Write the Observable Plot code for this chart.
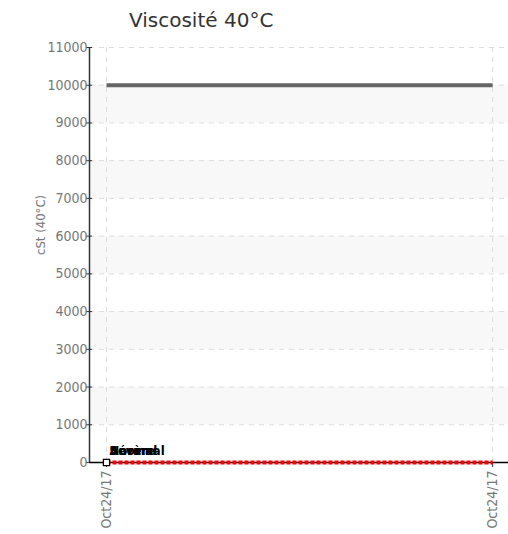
<!DOCTYPE html>
<html><head><meta charset="utf-8">
<script src="https://cdn.jsdelivr.net/npm/d3@7"></script>
<script src="https://cdn.jsdelivr.net/npm/@observablehq/plot@0.6"></script>
<style>
body{margin:0;background:#fff;}
#title{font-family:"DejaVu Sans",sans-serif;font-size:20px;color:#333;height:40px;line-height:40px;padding-left:129px;box-sizing:border-box;}
#chart svg text{font-stretch:condensed;}
</style>
</head><body>
<div id="title">Viscosité 40°C</div>
<div id="chart"></div>
<script>
const dateLabels = ["Oct24/17", "Oct24/17"];
const sampleIndex = [0, 1];
const limitValues = [10000, 10000];
const measuredValues = [0, 0];
const statusLabels = ["Sévère", "Anormal", "Normal"];
const yTicks = [0,1000,2000,3000,4000,5000,6000,7000,8000,9000,10000,11000];
const bands = [[1000,2000],[3000,4000],[5000,6000],[7000,8000],[9000,10000]];
const xDomain = [-0.044, 1.041];

const limitData = sampleIndex.map((i,k)=>({x:i,y:limitValues[k]}));
const measData = sampleIndex.map((i,k)=>({x:i,y:measuredValues[k]}));
const bandData = bands.map(([a,b])=>({y1:a,y2:b}));
const narrow = "'DejaVu Sans Condensed','DejaVu Sans',sans-serif";

const chart = Plot.plot({
  width: 508, height: 494,
  marginLeft: 89, marginRight: 0, marginTop: 7, marginBottom: 72,
  style: {fontFamily: narrow, fontSize: "14px", color: "#777", background: "#fff"},
  x: {domain: xDomain},
  y: {domain: [0, 11000]},
  marks: [
    Plot.rectY(bandData, {x1: xDomain[0], x2: xDomain[1], y1: "y1", y2: "y2", fill: "#f8f8f8"}),
    Plot.ruleY(yTicks.slice(1), {stroke: "#ddd", strokeDasharray: "5,5", strokeWidth: 1}),
    Plot.ruleX(sampleIndex, {y1: 0, y2: 11000, stroke: "#ddd", strokeDasharray: "5,5", strokeWidth: 1}),
    Plot.axisY({ticks: yTicks, tickSize: 6, dx: 3, text: null, stroke: "#333"}),
    Plot.axisY({ticks: yTicks, tickSize: 0, tickPadding: 2, tickFormat: d => String(d), label: null, fill: "#777", fontSize: 14}),
    Plot.text(["cSt (40°C)"], {frameAnchor: "left", dx: -49, rotate: -90, fill: "#777", fontSize: 13}),
    Plot.ruleX([xDomain[0]], {y1: 0, y2: 11000, stroke: "#333", strokeWidth: 1.5}),
    Plot.ruleY([0], {stroke: "#000", strokeWidth: 1.5}),
    Plot.axisX({ticks: sampleIndex, tickFormat: i => dateLabels[i], tickRotate: -90, tickSize: 5, tickPadding: 3, label: null, fill: "#777", fontSize: 14, stroke: "#333"}),
    Plot.line(limitData, {x: "x", y: "y", stroke: "#666", strokeWidth: 4, strokeLinecap: "butt"}),
    Plot.line(measData, {x: "x", y: "y", stroke: "#ff0000", strokeWidth: 4, strokeDasharray: "4,2", strokeLinecap: "butt"}),
    Plot.dot(measData.slice(0,1), {x: "x", y: "y", symbol: "square", r: 3.5, fill: "#fff", stroke: "#000", strokeWidth: 1.3}),
    ...statusLabels.map(s => Plot.text(measData.slice(0,1), {x: "x", y: "y", text: () => s, textAnchor: "start", dx: 3, dy: -12, fill: "#000", fontWeight: "bold", fontSize: 13}))
  ]
});
document.getElementById("chart").appendChild(chart);
</script>
</body></html>
